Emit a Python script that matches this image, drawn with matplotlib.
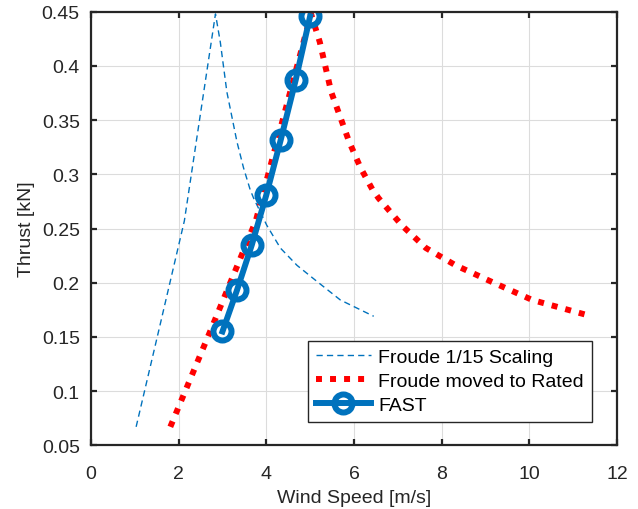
import matplotlib
matplotlib.use("Agg")
import matplotlib.pyplot as plt
from matplotlib.ticker import FormatStrFormatter

plt.rcParams['font.family'] = ['Liberation Sans', 'DejaVu Sans']

# Froude 1/15 scaling
froude_x = [1.03, 1.57, 2.13, 2.84, 2.95, 3.10, 3.33, 3.48, 3.63, 3.71, 4.01, 4.32, 4.70, 5.16, 5.69, 6.45]
froude_y = [0.067, 0.160, 0.257, 0.448, 0.422, 0.376, 0.330, 0.306, 0.286, 0.278, 0.253, 0.232, 0.216, 0.201, 0.184, 0.169]

# Froude moved to rated
rated_x = [1.81, 2.77, 3.76, 5.02, 5.22, 5.48, 5.89, 6.15, 6.42, 6.56, 7.09, 7.64, 8.32, 9.13, 10.07, 11.42]
rated_y = [0.067, 0.160, 0.257, 0.448, 0.422, 0.376, 0.330, 0.306, 0.286, 0.278, 0.253, 0.232, 0.216, 0.201, 0.184, 0.169]

# FAST
fast_x = [3.0, 3.33, 3.67, 4.0, 4.33, 4.67, 5.0]
fast_y = [0.155, 0.193, 0.235, 0.281, 0.332, 0.387, 0.446]

fig = plt.figure(figsize=(6.38, 5.10), dpi=100)
ax = fig.add_axes([0.1426, 0.125, 0.8245, 0.850])

blue = '#0072BD'
ax.plot(froude_x, froude_y, color=blue, lw=1.0, linestyle=(0, (4.5, 3)),
        label='Froude 1/15 Scaling')
ax.plot(rated_x, rated_y, color='#FF0000', lw=4.3, linestyle=(0, (1, 1.35)),
        dash_capstyle='butt', label='Froude moved to Rated')
ax.plot(fast_x, fast_y, color=blue, lw=4.3, marker='o', markersize=13,
        markeredgewidth=4.3, markerfacecolor='none', label='FAST')

ax.set_xlim(0, 12)
ax.set_ylim(0.05, 0.45)
ax.set_xticks([0, 2, 4, 6, 8, 10, 12])
ax.set_yticks([0.05, 0.1, 0.15, 0.2, 0.25, 0.3, 0.35, 0.4, 0.45])
ax.yaxis.set_major_formatter(FormatStrFormatter('%g'))

ax.grid(True, color='#dcdcdc', lw=0.8)
ax.set_axisbelow(True)
for s in ax.spines.values():
    s.set_linewidth(1.6)
    s.set_color('#262626')
ax.tick_params(direction='in', top=True, right=True, length=4, width=1.6,
               labelsize=14, colors='#262626')
ax.tick_params(axis='x', pad=14.5)
ax.tick_params(axis='y', pad=8)

ax.set_xlabel('Wind Speed [m/s]', fontsize=14, color='#262626', labelpad=5)
ax.set_ylabel('Thrust [kN]', fontsize=14, color='#262626', labelpad=4.5)

leg = ax.legend(loc='lower right', bbox_to_anchor=(0.952, 0.054), borderaxespad=0,
                fontsize=14, handlelength=2.8, handletextpad=0.4, labelspacing=0.33,
                borderpad=0.4, fancybox=False, framealpha=1, edgecolor='#262626')
leg.get_frame().set_linewidth(1.0)

fig.savefig('out.png', dpi=100)
